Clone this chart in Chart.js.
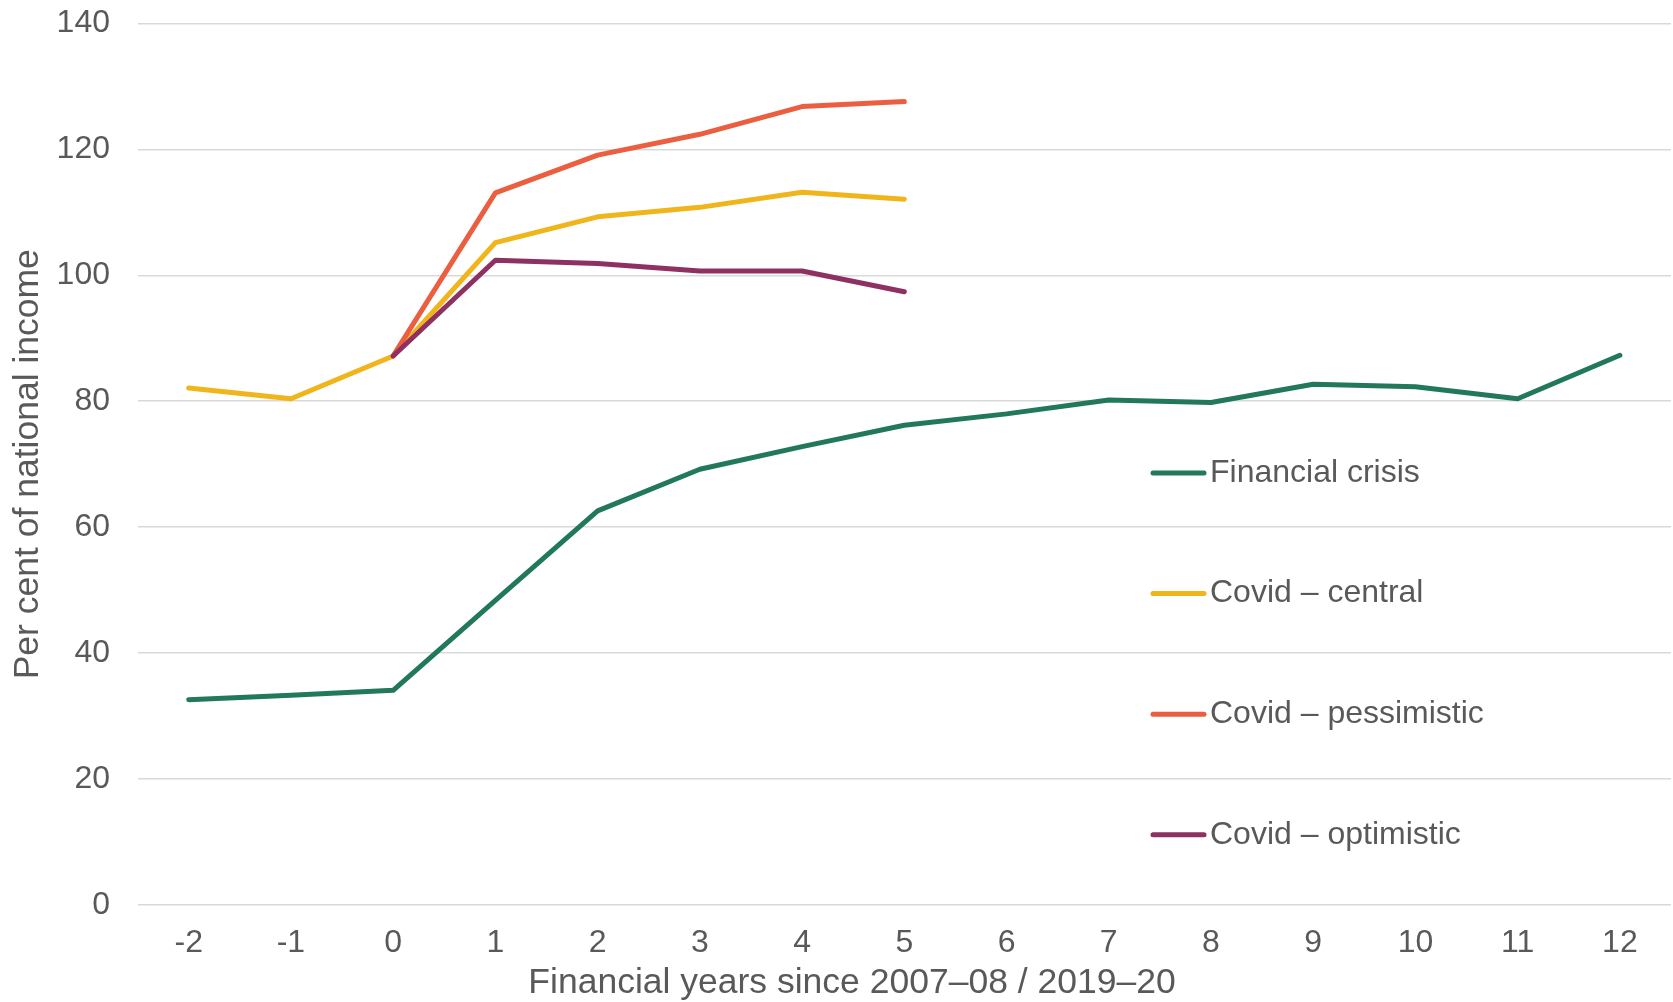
<!DOCTYPE html>
<html>
<head>
<meta charset="utf-8">
<script src="https://cdn.jsdelivr.net/npm/chart.js@4"></script>
<style>
  html, body { margin: 0; padding: 0; background: #ffffff; }
  #wrap { width: 1673px; height: 1002px; position: relative; }
</style>
</head>
<body>
<div id="wrap"><canvas id="chart"></canvas></div>
<script>
// Financial years since the start of each episode
const years = ['-2', '-1', '0', '1', '2', '3', '4', '5', '6', '7', '8', '9', '10', '11', '12'];

// Debt, per cent of national income
const financialCrisis = [32.6, 33.3, 34.1, 48.4, 62.6, 69.2, 72.8, 76.2, 78.0, 80.2, 79.8, 82.7, 82.3, 80.4, 87.3];
const covidCentral    = [82.1, 80.4, 87.2, 105.2, 109.3, 110.8, 113.2, 112.1, null, null, null, null, null, null, null];
const covidPessimistic = [null, null, 87.2, 113.1, 119.1, 122.4, 126.8, 127.6, null, null, null, null, null, null, null];
const covidOptimistic  = [null, null, 87.2, 102.4, 101.9, 100.7, 100.7, 97.4, null, null, null, null, null, null, null];

const seriesNames = ['Financial crisis', 'Covid \u2013 central', 'Covid \u2013 pessimistic', 'Covid \u2013 optimistic'];
const yTicks = [0, 20, 40, 60, 80, 100, 120, 140];

const FONT = '"Liberation Sans", Arial, Helvetica, sans-serif';
const TEXT = '#595959';
const COLORS = ['#22785a', '#f1b51c', '#eb5f40', '#8e3062'];

// Legend drawn inside the plot, one row per series
const insideLegend = {
  id: 'insideLegend',
  afterDatasetsDraw(chart) {
    const ctx = chart.ctx;
    const startY = 473, gap = 120.6;
    const lineX0 = 1153, lineX1 = 1204, textX = 1210;
    ctx.save();
    chart.data.datasets.forEach((ds, i) => {
      const y = startY + i * gap;
      ctx.strokeStyle = ds.borderColor;
      ctx.lineWidth = 5;
      ctx.lineCap = 'round';
      ctx.beginPath();
      ctx.moveTo(lineX0, y);
      ctx.lineTo(lineX1, y);
      ctx.stroke();
      ctx.fillStyle = TEXT;
      ctx.font = '32px ' + FONT;
      ctx.textAlign = 'left';
      ctx.textBaseline = 'middle';
      ctx.fillText(ds.label, textX, y);
    });
    ctx.restore();
  }
};

const seriesData = [financialCrisis, covidCentral, covidPessimistic, covidOptimistic];

new Chart(document.getElementById('chart'), {
  type: 'line',
  data: {
    labels: years,
    datasets: seriesData.map((d, i) => ({
      label: seriesNames[i],
      data: d,
      borderColor: COLORS[i],
      backgroundColor: COLORS[i],
      borderWidth: 5,
      borderCapStyle: 'round',
      borderJoinStyle: 'round',
      pointRadius: 0,
      pointHoverRadius: 0,
      tension: 0,
      spanGaps: false,
      fill: false,
      order: 3 - i
    }))
  },
  options: {
    responsive: true,
    maintainAspectRatio: false,
    animation: false,
    layout: { padding: { left: 33, right: 2, top: 23.5, bottom: 0 } },
    plugins: {
      legend: { display: false },
      tooltip: { enabled: false },
      title: {
        display: true,
        position: 'bottom',
        text: 'Financial years since 2007\u201308 / 2019\u201320',
        color: TEXT,
        font: { family: FONT, size: 35.5, weight: 'normal' },
        padding: { top: 3, bottom: -3 }
      }
    },
    scales: {
      x: {
        type: 'category',
        offset: true,
        grid: { display: false, drawTicks: false },
        border: { display: false },
        ticks: {
          color: TEXT,
          font: { family: FONT, size: 32 },
          padding: 19,
          maxRotation: 0,
          autoSkip: false
        },
        afterFit(scale) {
          scale.height = 54.4;
          scale.paddingLeft = 0;
          scale.paddingRight = 0;
          scale.paddingTop = 0;
          scale.paddingBottom = 0;
        }
      },
      y: {
        min: yTicks[0],
        max: yTicks[yTicks.length - 1],
        afterBuildTicks(scale) {
          scale.ticks = yTicks.map(v => ({ value: v }));
        },
        afterFit(scale) {
          scale.width = 104.6;
          scale.paddingTop = 0;
          scale.paddingBottom = 0;
        },
        grid: { color: '#d9d9d9', lineWidth: 1.6, drawTicks: false },
        border: { display: false },
        ticks: {
          color: TEXT,
          font: { family: FONT, size: 32 },
          padding: 27.6
        },
        title: {
          display: true,
          text: 'Per cent of national income',
          color: TEXT,
          font: { family: FONT, size: 35.5 },
          padding: { top: -26, bottom: 0 }
        }
      }
    }
  },
  plugins: [insideLegend]
});
</script>
</body>
</html>
